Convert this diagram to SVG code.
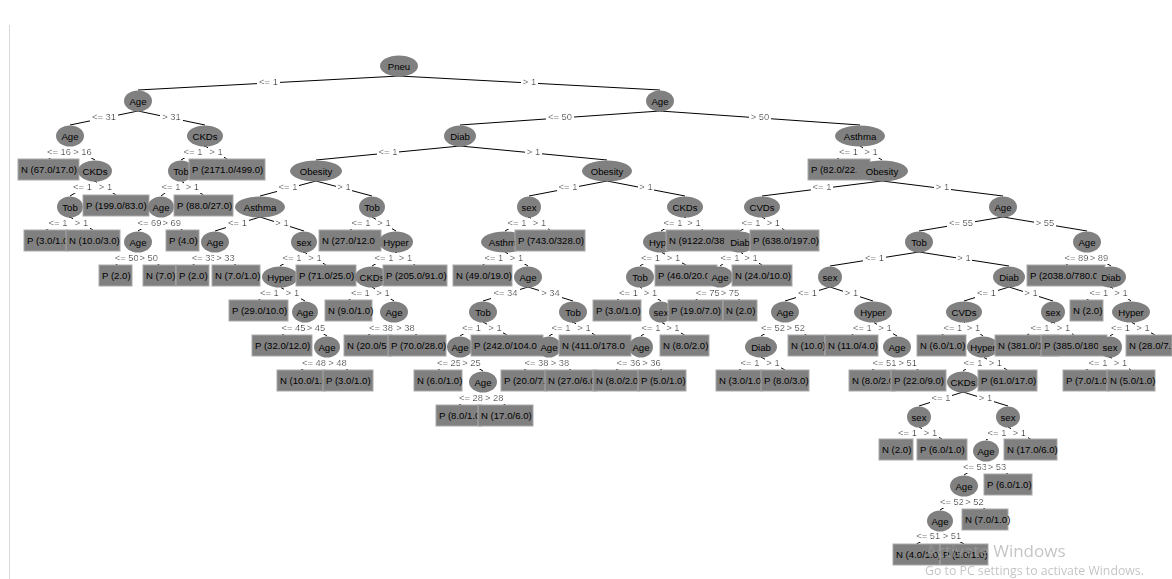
<svg xmlns="http://www.w3.org/2000/svg" width="1172" height="579" viewBox="0 0 1172 579">
<style>
.nd ellipse{fill:#808080}
.nd rect{fill:#808080;stroke:#a9a9a9;stroke-width:1}
.nd text{font-family:"Liberation Sans",Arial,sans-serif;font-size:9.6px;fill:#000}
.nd text.c{text-anchor:middle}
#connectors line{stroke:#000;stroke-width:1}
#edge-labels text{font-family:"Liberation Sans",Arial,sans-serif;font-size:9.4px;text-anchor:middle;fill:#000;filter:url(#lbg)}
.wm{font-family:"Open Sans","Noto Sans",sans-serif;fill:#9e9e9e;opacity:0.6}
</style>
<defs>
<!-- white backing box behind each branch label, so the line breaks around it -->
<filter id="lbg" x="-0.08" y="-0.05" width="1.16" height="1.1">
<feFlood flood-color="#fff"/>
<feComposite in="SourceGraphic" operator="over"/>
</filter>
</defs>
<rect width="1172" height="579" fill="#fff"/>
<line x1="9.5" y1="25" x2="9.5" y2="579" stroke="#d9d9d9" stroke-width="1"/>

<g id="connectors">
<line x1="399" y1="76" x2="138" y2="90"/>
<line x1="399" y1="76" x2="660" y2="90"/>
<line x1="138" y1="111" x2="70" y2="125"/>
<line x1="138" y1="111" x2="205" y2="125"/>
<line x1="70" y1="146" x2="48.5" y2="159"/>
<line x1="70" y1="146" x2="95" y2="160"/>
<line x1="95" y1="181" x2="70" y2="196"/>
<line x1="95" y1="181" x2="116" y2="195"/>
<line x1="70" y1="217" x2="46" y2="230"/>
<line x1="70" y1="217" x2="93" y2="230"/>
<line x1="205" y1="146" x2="181" y2="160"/>
<line x1="205" y1="146" x2="227" y2="159"/>
<line x1="181" y1="181" x2="161" y2="196"/>
<line x1="181" y1="181" x2="203.5" y2="195"/>
<line x1="161" y1="217" x2="138" y2="231"/>
<line x1="161" y1="217" x2="182.5" y2="230"/>
<line x1="138" y1="252" x2="115.5" y2="265"/>
<line x1="138" y1="252" x2="159.5" y2="265"/>
<line x1="660" y1="111" x2="460" y2="125"/>
<line x1="660" y1="111" x2="860" y2="125"/>
<line x1="460" y1="146" x2="316" y2="160"/>
<line x1="460" y1="146" x2="607" y2="160"/>
<line x1="316" y1="181" x2="260" y2="196"/>
<line x1="316" y1="181" x2="372" y2="196"/>
<line x1="260" y1="217" x2="215" y2="231"/>
<line x1="260" y1="217" x2="304" y2="231"/>
<line x1="215" y1="252" x2="192.5" y2="265"/>
<line x1="215" y1="252" x2="236" y2="265"/>
<line x1="304" y1="252" x2="280" y2="266"/>
<line x1="304" y1="252" x2="326" y2="265"/>
<line x1="280" y1="287" x2="258.5" y2="300"/>
<line x1="280" y1="287" x2="305" y2="301"/>
<line x1="305" y1="322" x2="282" y2="335"/>
<line x1="305" y1="322" x2="327" y2="336"/>
<line x1="327" y1="357" x2="301" y2="370"/>
<line x1="327" y1="357" x2="348" y2="370"/>
<line x1="372" y1="217" x2="350" y2="230"/>
<line x1="372" y1="217" x2="396" y2="231"/>
<line x1="396" y1="252" x2="372" y2="266"/>
<line x1="396" y1="252" x2="415" y2="265"/>
<line x1="372" y1="287" x2="348.5" y2="300"/>
<line x1="372" y1="287" x2="394" y2="301"/>
<line x1="394" y1="322" x2="368" y2="335"/>
<line x1="394" y1="322" x2="417" y2="335"/>
<line x1="607" y1="181" x2="529" y2="196"/>
<line x1="607" y1="181" x2="685" y2="196"/>
<line x1="529" y1="217" x2="505" y2="231"/>
<line x1="529" y1="217" x2="550" y2="230"/>
<line x1="505" y1="252" x2="482.5" y2="265"/>
<line x1="505" y1="252" x2="528" y2="266"/>
<line x1="528" y1="287" x2="483" y2="301"/>
<line x1="528" y1="287" x2="573" y2="301"/>
<line x1="483" y1="322" x2="460" y2="336"/>
<line x1="483" y1="322" x2="507" y2="335"/>
<line x1="460" y1="357" x2="438" y2="370"/>
<line x1="460" y1="357" x2="483" y2="371"/>
<line x1="483" y1="392" x2="459" y2="405"/>
<line x1="483" y1="392" x2="505.5" y2="405"/>
<line x1="573" y1="322" x2="549" y2="336"/>
<line x1="573" y1="322" x2="595" y2="335"/>
<line x1="549" y1="357" x2="524" y2="370"/>
<line x1="549" y1="357" x2="571" y2="370"/>
<line x1="685" y1="217" x2="661" y2="231"/>
<line x1="685" y1="217" x2="703" y2="230"/>
<line x1="661" y1="252" x2="640" y2="266"/>
<line x1="661" y1="252" x2="686" y2="265"/>
<line x1="640" y1="287" x2="617" y2="300"/>
<line x1="640" y1="287" x2="661" y2="301"/>
<line x1="661" y1="322" x2="641" y2="336"/>
<line x1="661" y1="322" x2="684.5" y2="335"/>
<line x1="641" y1="357" x2="616" y2="370"/>
<line x1="641" y1="357" x2="662" y2="370"/>
<line x1="860" y1="146" x2="837" y2="159"/>
<line x1="860" y1="146" x2="882" y2="160"/>
<line x1="882" y1="181" x2="762" y2="196"/>
<line x1="882" y1="181" x2="1003" y2="196"/>
<line x1="762" y1="217" x2="740" y2="231"/>
<line x1="762" y1="217" x2="784.5" y2="230"/>
<line x1="740" y1="252" x2="720" y2="266"/>
<line x1="740" y1="252" x2="762" y2="265"/>
<line x1="720" y1="287" x2="695.5" y2="300"/>
<line x1="720" y1="287" x2="740" y2="300"/>
<line x1="1003" y1="217" x2="919" y2="231"/>
<line x1="1003" y1="217" x2="1087" y2="231"/>
<line x1="919" y1="252" x2="830" y2="266"/>
<line x1="919" y1="252" x2="1009" y2="266"/>
<line x1="830" y1="287" x2="785" y2="301"/>
<line x1="830" y1="287" x2="873" y2="301"/>
<line x1="785" y1="322" x2="761" y2="336"/>
<line x1="785" y1="322" x2="806.5" y2="335"/>
<line x1="761" y1="357" x2="739" y2="370"/>
<line x1="761" y1="357" x2="785" y2="370"/>
<line x1="873" y1="322" x2="851.5" y2="335"/>
<line x1="873" y1="322" x2="897" y2="336"/>
<line x1="897" y1="357" x2="872" y2="370"/>
<line x1="897" y1="357" x2="918.5" y2="370"/>
<line x1="1009" y1="287" x2="964" y2="301"/>
<line x1="1009" y1="287" x2="1053" y2="301"/>
<line x1="964" y1="322" x2="941.5" y2="335"/>
<line x1="964" y1="322" x2="983" y2="336"/>
<line x1="983" y1="357" x2="963" y2="371"/>
<line x1="983" y1="357" x2="1007.5" y2="370"/>
<line x1="963" y1="392" x2="919" y2="406"/>
<line x1="963" y1="392" x2="1008" y2="406"/>
<line x1="919" y1="427" x2="896" y2="439"/>
<line x1="919" y1="427" x2="942" y2="439"/>
<line x1="1008" y1="427" x2="986" y2="440"/>
<line x1="1008" y1="427" x2="1030.5" y2="439"/>
<line x1="986" y1="461" x2="964" y2="475"/>
<line x1="986" y1="461" x2="1008" y2="474"/>
<line x1="964" y1="496" x2="940" y2="510"/>
<line x1="964" y1="496" x2="985" y2="509"/>
<line x1="940" y1="531" x2="916.5" y2="544"/>
<line x1="940" y1="531" x2="964" y2="544"/>
<line x1="1053" y1="322" x2="1027" y2="335"/>
<line x1="1053" y1="322" x2="1074" y2="335"/>
<line x1="1087" y1="252" x2="1066" y2="265"/>
<line x1="1087" y1="252" x2="1111" y2="266"/>
<line x1="1111" y1="287" x2="1086.5" y2="300"/>
<line x1="1111" y1="287" x2="1131" y2="301"/>
<line x1="1131" y1="322" x2="1110" y2="336"/>
<line x1="1131" y1="322" x2="1155" y2="335"/>
<line x1="1110" y1="357" x2="1086" y2="370"/>
<line x1="1110" y1="357" x2="1131" y2="370"/>
</g>

<g id="edge-labels">
<text x="268.5" y="85">&lt;= 1</text><text x="529.5" y="85">&gt; 1</text>
<text x="104" y="120">&lt;= 31</text><text x="171.5" y="120">&gt; 31</text>
<text x="59" y="155">&lt;= 16</text><text x="82.5" y="155">&gt; 16</text>
<text x="82.5" y="190">&lt;= 1</text><text x="105.5" y="190">&gt; 1</text>
<text x="58" y="226">&lt;= 1</text><text x="81.5" y="226">&gt; 1</text>
<text x="193" y="155">&lt;= 1</text><text x="216" y="155">&gt; 1</text>
<text x="171" y="190">&lt;= 1</text><text x="192.3" y="190">&gt; 1</text>
<text x="149.5" y="226">&lt;= 69</text><text x="171.8" y="226">&gt; 69</text>
<text x="126.8" y="261">&lt;= 50</text><text x="148.8" y="261">&gt; 50</text>
<text x="560" y="120">&lt;= 50</text><text x="760" y="120">&gt; 50</text>
<text x="388" y="155">&lt;= 1</text><text x="533.5" y="155">&gt; 1</text>
<text x="288" y="190">&lt;= 1</text><text x="344" y="190">&gt; 1</text>
<text x="237.5" y="226">&lt;= 1</text><text x="282" y="226">&gt; 1</text>
<text x="203.8" y="261">&lt;= 33</text><text x="225.5" y="261">&gt; 33</text>
<text x="292" y="261">&lt;= 1</text><text x="315" y="261">&gt; 1</text>
<text x="269.3" y="296">&lt;= 1</text><text x="292.5" y="296">&gt; 1</text>
<text x="293.5" y="331">&lt;= 45</text><text x="316" y="331">&gt; 45</text>
<text x="314" y="366">&lt;= 48</text><text x="337.5" y="366">&gt; 48</text>
<text x="361" y="226">&lt;= 1</text><text x="384" y="226">&gt; 1</text>
<text x="384" y="261">&lt;= 1</text><text x="405.5" y="261">&gt; 1</text>
<text x="360.3" y="296">&lt;= 1</text><text x="383" y="296">&gt; 1</text>
<text x="381" y="331">&lt;= 38</text><text x="405.5" y="331">&gt; 38</text>
<text x="568" y="190">&lt;= 1</text><text x="646" y="190">&gt; 1</text>
<text x="517" y="226">&lt;= 1</text><text x="539.5" y="226">&gt; 1</text>
<text x="493.8" y="261">&lt;= 1</text><text x="516.5" y="261">&gt; 1</text>
<text x="505.5" y="296">&lt;= 34</text><text x="550.5" y="296">&gt; 34</text>
<text x="471.5" y="331">&lt;= 1</text><text x="495" y="331">&gt; 1</text>
<text x="449" y="366">&lt;= 25</text><text x="471.5" y="366">&gt; 25</text>
<text x="471" y="401">&lt;= 28</text><text x="494.3" y="401">&gt; 28</text>
<text x="561" y="331">&lt;= 1</text><text x="584" y="331">&gt; 1</text>
<text x="536.5" y="366">&lt;= 38</text><text x="560" y="366">&gt; 38</text>
<text x="673" y="226">&lt;= 1</text><text x="694" y="226">&gt; 1</text>
<text x="650.5" y="261">&lt;= 1</text><text x="673.5" y="261">&gt; 1</text>
<text x="628.5" y="296">&lt;= 1</text><text x="650.5" y="296">&gt; 1</text>
<text x="651" y="331">&lt;= 1</text><text x="672.8" y="331">&gt; 1</text>
<text x="628.5" y="366">&lt;= 36</text><text x="651.5" y="366">&gt; 36</text>
<text x="848.5" y="155">&lt;= 1</text><text x="871" y="155">&gt; 1</text>
<text x="822" y="190">&lt;= 1</text><text x="942.5" y="190">&gt; 1</text>
<text x="751" y="226">&lt;= 1</text><text x="773.3" y="226">&gt; 1</text>
<text x="730" y="261">&lt;= 1</text><text x="751" y="261">&gt; 1</text>
<text x="707.8" y="296">&lt;= 75</text><text x="730" y="296">&gt; 75</text>
<text x="961" y="226">&lt;= 55</text><text x="1045" y="226">&gt; 55</text>
<text x="874.5" y="261">&lt;= 1</text><text x="964" y="261">&gt; 1</text>
<text x="807.5" y="296">&lt;= 1</text><text x="851.5" y="296">&gt; 1</text>
<text x="773" y="331">&lt;= 52</text><text x="795.8" y="331">&gt; 52</text>
<text x="750" y="366">&lt;= 1</text><text x="773" y="366">&gt; 1</text>
<text x="862.3" y="331">&lt;= 1</text><text x="885" y="331">&gt; 1</text>
<text x="884.5" y="366">&lt;= 51</text><text x="907.8" y="366">&gt; 51</text>
<text x="986.5" y="296">&lt;= 1</text><text x="1031" y="296">&gt; 1</text>
<text x="952.8" y="331">&lt;= 1</text><text x="973.5" y="331">&gt; 1</text>
<text x="973" y="366">&lt;= 1</text><text x="995.3" y="366">&gt; 1</text>
<text x="941" y="401">&lt;= 1</text><text x="985.5" y="401">&gt; 1</text>
<text x="907.5" y="436">&lt;= 1</text><text x="930.5" y="436">&gt; 1</text>
<text x="997" y="436">&lt;= 1</text><text x="1019.3" y="436">&gt; 1</text>
<text x="975" y="470">&lt;= 53</text><text x="997" y="470">&gt; 53</text>
<text x="952" y="505">&lt;= 52</text><text x="974.5" y="505">&gt; 52</text>
<text x="928.3" y="539">&lt;= 51</text><text x="952" y="539">&gt; 51</text>
<text x="1040" y="331">&lt;= 1</text><text x="1063.5" y="331">&gt; 1</text>
<text x="1076.5" y="261">&lt;= 89</text><text x="1099" y="261">&gt; 89</text>
<text x="1098.8" y="296">&lt;= 1</text><text x="1121" y="296">&gt; 1</text>
<text x="1120.5" y="331">&lt;= 1</text><text x="1143" y="331">&gt; 1</text>
<text x="1098" y="366">&lt;= 1</text><text x="1120.5" y="366">&gt; 1</text>
</g>

<!-- nodes, drawn in depth-first order so right-hand siblings overlap left ones -->
<g id="node-0" class="nd"><ellipse cx="399" cy="66" rx="19" ry="10.5"/><text class="c" x="399" y="69.5">Pneu</text></g>
<g id="node-1" class="nd"><ellipse cx="138" cy="101" rx="14" ry="10.5"/><text class="c" x="138" y="104.5">Age</text></g>
<g id="node-2" class="nd"><ellipse cx="70" cy="136" rx="14" ry="10.5"/><text class="c" x="70" y="139.5">Age</text></g>
<g id="node-3" class="nd"><rect x="18" y="159" width="61" height="21"/><text x="21" y="173">N (67.0/17.0)</text></g>
<g id="node-4" class="nd"><ellipse cx="95" cy="171" rx="17" ry="10.5"/><text class="c" x="95" y="174.5">CKDs</text></g>
<g id="node-5" class="nd"><ellipse cx="70" cy="207" rx="13" ry="10.5"/><text class="c" x="70" y="210.5">Tob</text></g>
<g id="node-6" class="nd"><rect x="24" y="230" width="44" height="21"/><text x="27" y="244">P (3.0/1.0</text></g>
<g id="node-7" class="nd"><rect x="66" y="230" width="54" height="21"/><text x="69" y="244">N (10.0/3.0)</text></g>
<g id="node-8" class="nd"><rect x="83" y="195" width="66" height="21"/><text x="86" y="209">P (199.0/83.0)</text></g>
<g id="node-9" class="nd"><ellipse cx="205" cy="136" rx="18" ry="10.5"/><text class="c" x="205" y="139.5">CKDs</text></g>
<g id="node-10" class="nd"><ellipse cx="181" cy="171" rx="13" ry="10.5"/><text class="c" x="181" y="174.5">Tob</text></g>
<g id="node-11" class="nd"><ellipse cx="161" cy="207" rx="13" ry="10.5"/><text class="c" x="161" y="210.5">Age</text></g>
<g id="node-12" class="nd"><ellipse cx="138" cy="242" rx="14" ry="10.5"/><text class="c" x="138" y="245.5">Age</text></g>
<g id="node-13" class="nd"><rect x="99" y="265" width="33" height="21"/><text x="102" y="279">P (2.0)</text></g>
<g id="node-14" class="nd"><rect x="143" y="265" width="33" height="21"/><text x="146" y="279">N (7.0)</text></g>
<g id="node-15" class="nd"><rect x="166" y="230" width="33" height="21"/><text x="169" y="244">P (4.0)</text></g>
<g id="node-16" class="nd"><rect x="174" y="195" width="59" height="21"/><text x="177" y="209">P (88.0/27.0)</text></g>
<g id="node-17" class="nd"><rect x="189" y="159" width="76" height="21"/><text x="192" y="173">P (2171.0/499.0)</text></g>
<g id="node-18" class="nd"><ellipse cx="660" cy="101" rx="14" ry="10.5"/><text class="c" x="660" y="104.5">Age</text></g>
<g id="node-19" class="nd"><ellipse cx="460" cy="136" rx="16" ry="10.5"/><text class="c" x="460" y="139.5">Diab</text></g>
<g id="node-20" class="nd"><ellipse cx="316" cy="171" rx="26" ry="10.5"/><text class="c" x="316" y="174.5">Obesity</text></g>
<g id="node-21" class="nd"><ellipse cx="260" cy="207" rx="25" ry="10.5"/><text class="c" x="260" y="210.5">Asthma</text></g>
<g id="node-22" class="nd"><ellipse cx="215" cy="242" rx="14" ry="10.5"/><text class="c" x="215" y="245.5">Age</text></g>
<g id="node-23" class="nd"><rect x="176" y="265" width="33" height="21"/><text x="179" y="279">P (2.0)</text></g>
<g id="node-24" class="nd"><rect x="212" y="265" width="48" height="21"/><text x="215" y="279">N (7.0/1.0)</text></g>
<g id="node-25" class="nd"><ellipse cx="304" cy="242" rx="13" ry="10.5"/><text class="c" x="304" y="245.5">sex</text></g>
<g id="node-26" class="nd"><ellipse cx="280" cy="277" rx="18" ry="10.5"/><text class="c" x="280" y="280.5">Hyper</text></g>
<g id="node-27" class="nd"><rect x="229" y="300" width="59" height="21"/><text x="232" y="314">P (29.0/10.0)</text></g>
<g id="node-28" class="nd"><ellipse cx="305" cy="312" rx="13" ry="10.5"/><text class="c" x="305" y="315.5">Age</text></g>
<g id="node-29" class="nd"><rect x="252" y="335" width="60" height="21"/><text x="255" y="349">P (32.0/12.0)</text></g>
<g id="node-30" class="nd"><ellipse cx="327" cy="347" rx="13" ry="10.5"/><text class="c" x="327" y="350.5">Age</text></g>
<g id="node-31" class="nd"><rect x="277" y="370" width="48" height="21"/><text x="280" y="384">N (10.0/1.0</text></g>
<g id="node-32" class="nd"><rect x="323" y="370" width="50" height="21"/><text x="326" y="384">P (3.0/1.0)</text></g>
<g id="node-33" class="nd"><rect x="296" y="265" width="60" height="21"/><text x="299" y="279">P (71.0/25.0)</text></g>
<g id="node-34" class="nd"><ellipse cx="372" cy="207" rx="13" ry="10.5"/><text class="c" x="372" y="210.5">Tob</text></g>
<g id="node-35" class="nd"><rect x="319" y="230" width="62" height="21"/><text x="322" y="244">N (27.0/12.0</text></g>
<g id="node-36" class="nd"><ellipse cx="396" cy="242" rx="17" ry="10.5"/><text class="c" x="396" y="245.5">Hyper</text></g>
<g id="node-37" class="nd"><ellipse cx="372" cy="277" rx="17" ry="10.5"/><text class="c" x="372" y="280.5">CKDs</text></g>
<g id="node-38" class="nd"><rect x="325" y="300" width="47" height="21"/><text x="328" y="314">N (9.0/1.0)</text></g>
<g id="node-39" class="nd"><ellipse cx="394" cy="312" rx="14" ry="10.5"/><text class="c" x="394" y="315.5">Age</text></g>
<g id="node-40" class="nd"><rect x="344" y="335" width="48" height="21"/><text x="347" y="349">N (20.0/5</text></g>
<g id="node-41" class="nd"><rect x="388" y="335" width="58" height="21"/><text x="391" y="349">P (70.0/28.0)</text></g>
<g id="node-42" class="nd"><rect x="383" y="265" width="64" height="21"/><text x="386" y="279">P (205.0/91.0)</text></g>
<g id="node-43" class="nd"><ellipse cx="607" cy="171" rx="25" ry="10.5"/><text class="c" x="607" y="174.5">Obesity</text></g>
<g id="node-44" class="nd"><ellipse cx="529" cy="207" rx="12" ry="10.5"/><text class="c" x="529" y="210.5">sex</text></g>
<g id="node-45" class="nd"><ellipse cx="505" cy="242" rx="24" ry="10.5"/><text class="c" x="505" y="245.5">Asthma</text></g>
<g id="node-46" class="nd"><rect x="453" y="265" width="59" height="21"/><text x="456" y="279">N (49.0/19.0)</text></g>
<g id="node-47" class="nd"><ellipse cx="528" cy="277" rx="14" ry="10.5"/><text class="c" x="528" y="280.5">Age</text></g>
<g id="node-48" class="nd"><ellipse cx="483" cy="312" rx="14" ry="10.5"/><text class="c" x="483" y="315.5">Tob</text></g>
<g id="node-49" class="nd"><ellipse cx="460" cy="347" rx="13" ry="10.5"/><text class="c" x="460" y="350.5">Age</text></g>
<g id="node-50" class="nd"><rect x="414" y="370" width="48" height="21"/><text x="417" y="384">N (6.0/1.0)</text></g>
<g id="node-51" class="nd"><ellipse cx="483" cy="382" rx="14" ry="10.5"/><text class="c" x="483" y="385.5">Age</text></g>
<g id="node-52" class="nd"><rect x="436" y="405" width="46" height="21"/><text x="439" y="419">P (8.0/1.0</text></g>
<g id="node-53" class="nd"><rect x="478" y="405" width="55" height="21"/><text x="481" y="419">N (17.0/6.0)</text></g>
<g id="node-54" class="nd"><rect x="471" y="335" width="72" height="21"/><text x="474" y="349">P (242.0/104.0</text></g>
<g id="node-55" class="nd"><ellipse cx="573" cy="312" rx="14" ry="10.5"/><text class="c" x="573" y="315.5">Tob</text></g>
<g id="node-56" class="nd"><ellipse cx="549" cy="347" rx="12" ry="10.5"/><text class="c" x="549" y="350.5">Age</text></g>
<g id="node-57" class="nd"><rect x="501" y="370" width="46" height="21"/><text x="504" y="384">P (20.0/7.</text></g>
<g id="node-58" class="nd"><rect x="545" y="370" width="52" height="21"/><text x="548" y="384">N (27.0/6.0</text></g>
<g id="node-59" class="nd"><rect x="559" y="335" width="72" height="21"/><text x="562" y="349">N (411.0/178.0</text></g>
<g id="node-60" class="nd"><rect x="515" y="230" width="70" height="21"/><text x="518" y="244">P (743.0/328.0)</text></g>
<g id="node-61" class="nd"><ellipse cx="685" cy="207" rx="18" ry="10.5"/><text class="c" x="685" y="210.5">CKDs</text></g>
<g id="node-62" class="nd"><ellipse cx="661" cy="242" rx="18" ry="10.5"/><text x="649" y="245.5">Hyp</text></g>
<g id="node-63" class="nd"><ellipse cx="640" cy="277" rx="14" ry="10.5"/><text class="c" x="640" y="280.5">Tob</text></g>
<g id="node-64" class="nd"><rect x="593" y="300" width="48" height="21"/><text x="596" y="314">P (3.0/1.0)</text></g>
<g id="node-65" class="nd"><ellipse cx="661" cy="312" rx="12" ry="10.5"/><text class="c" x="661" y="315.5">sex</text></g>
<g id="node-66" class="nd"><ellipse cx="641" cy="347" rx="12" ry="10.5"/><text class="c" x="641" y="350.5">Age</text></g>
<g id="node-67" class="nd"><rect x="593" y="370" width="47" height="21"/><text x="596" y="384">N (8.0/2.0)</text></g>
<g id="node-68" class="nd"><rect x="638" y="370" width="48" height="21"/><text x="641" y="384">P (5.0/1.0)</text></g>
<g id="node-69" class="nd"><rect x="660" y="335" width="49" height="21"/><text x="663" y="349">N (8.0/2.0)</text></g>
<g id="node-70" class="nd"><rect x="655" y="265" width="62" height="21"/><text x="658" y="279">P (46.0/20.0</text></g>
<g id="node-71" class="nd"><rect x="666" y="230" width="74" height="21"/><text x="669" y="244">N (9122.0/380</text></g>
<g id="node-72" class="nd"><ellipse cx="860" cy="136" rx="25" ry="10.5"/><text class="c" x="860" y="139.5">Asthma</text></g>
<g id="node-73" class="nd"><rect x="808" y="159" width="62" height="21"/><text x="811" y="173">P (82.0/22.0</text></g>
<g id="node-74" class="nd"><ellipse cx="882" cy="171" rx="26" ry="10.5"/><text class="c" x="882" y="174.5">Obesity</text></g>
<g id="node-75" class="nd"><ellipse cx="762" cy="207" rx="18" ry="10.5"/><text class="c" x="762" y="210.5">CVDs</text></g>
<g id="node-76" class="nd"><ellipse cx="740" cy="242" rx="16" ry="10.5"/><text class="c" x="740" y="245.5">Diab</text></g>
<g id="node-77" class="nd"><ellipse cx="720" cy="277" rx="13" ry="10.5"/><text class="c" x="720" y="280.5">Age</text></g>
<g id="node-78" class="nd"><rect x="668" y="300" width="55" height="21"/><text x="671" y="314">P (19.0/7.0)</text></g>
<g id="node-79" class="nd"><rect x="723" y="300" width="34" height="21"/><text x="726" y="314">N (2.0)</text></g>
<g id="node-80" class="nd"><rect x="732" y="265" width="60" height="21"/><text x="735" y="279">N (24.0/10.0)</text></g>
<g id="node-81" class="nd"><rect x="750" y="230" width="69" height="21"/><text x="753" y="244">P (638.0/197.0)</text></g>
<g id="node-82" class="nd"><ellipse cx="1003" cy="207" rx="14" ry="10.5"/><text class="c" x="1003" y="210.5">Age</text></g>
<g id="node-83" class="nd"><ellipse cx="919" cy="242" rx="14" ry="10.5"/><text class="c" x="919" y="245.5">Tob</text></g>
<g id="node-84" class="nd"><ellipse cx="830" cy="277" rx="12" ry="10.5"/><text class="c" x="830" y="280.5">sex</text></g>
<g id="node-85" class="nd"><ellipse cx="785" cy="312" rx="14" ry="10.5"/><text class="c" x="785" y="315.5">Age</text></g>
<g id="node-86" class="nd"><ellipse cx="761" cy="347" rx="16" ry="10.5"/><text class="c" x="761" y="350.5">Diab</text></g>
<g id="node-87" class="nd"><rect x="716" y="370" width="46" height="21"/><text x="719" y="384">N (3.0/1.0</text></g>
<g id="node-88" class="nd"><rect x="761" y="370" width="48" height="21"/><text x="764" y="384">P (8.0/3.0)</text></g>
<g id="node-89" class="nd"><rect x="788" y="335" width="37" height="21"/><text x="791" y="349">N (10.0)</text></g>
<g id="node-90" class="nd"><ellipse cx="873" cy="312" rx="19" ry="10.5"/><text class="c" x="873" y="315.5">Hyper</text></g>
<g id="node-91" class="nd"><rect x="825" y="335" width="53" height="21"/><text x="828" y="349">N (11.0/4.0)</text></g>
<g id="node-92" class="nd"><ellipse cx="897" cy="347" rx="14" ry="10.5"/><text class="c" x="897" y="350.5">Age</text></g>
<g id="node-93" class="nd"><rect x="849" y="370" width="46" height="21"/><text x="852" y="384">N (8.0/2.0</text></g>
<g id="node-94" class="nd"><rect x="891" y="370" width="55" height="21"/><text x="894" y="384">P (22.0/9.0)</text></g>
<g id="node-95" class="nd"><ellipse cx="1009" cy="277" rx="16" ry="10.5"/><text class="c" x="1009" y="280.5">Diab</text></g>
<g id="node-96" class="nd"><ellipse cx="964" cy="312" rx="18" ry="10.5"/><text class="c" x="964" y="315.5">CVDs</text></g>
<g id="node-97" class="nd"><rect x="917" y="335" width="49" height="21"/><text x="920" y="349">N (6.0/1.0)</text></g>
<g id="node-98" class="nd"><ellipse cx="983" cy="347" rx="16" ry="10.5"/><text class="c" x="983" y="350.5">Hyper</text></g>
<g id="node-99" class="nd"><ellipse cx="963" cy="382" rx="16" ry="10.5"/><text class="c" x="963" y="385.5">CKDs</text></g>
<g id="node-100" class="nd"><ellipse cx="919" cy="417" rx="12" ry="10.5"/><text class="c" x="919" y="420.5">sex</text></g>
<g id="node-101" class="nd"><rect x="879" y="439" width="34" height="21"/><text x="882" y="453">N (2.0)</text></g>
<g id="node-102" class="nd"><rect x="917" y="439" width="50" height="21"/><text x="920" y="453">P (6.0/1.0)</text></g>
<g id="node-103" class="nd"><ellipse cx="1008" cy="417" rx="12" ry="10.5"/><text class="c" x="1008" y="420.5">sex</text></g>
<g id="node-104" class="nd"><ellipse cx="986" cy="451" rx="13" ry="10.5"/><text class="c" x="986" y="454.5">Age</text></g>
<g id="node-105" class="nd"><ellipse cx="964" cy="486" rx="14" ry="10.5"/><text class="c" x="964" y="489.5">Age</text></g>
<g id="node-106" class="nd"><ellipse cx="940" cy="521" rx="13" ry="10.5"/><text class="c" x="940" y="524.5">Age</text></g>
<g id="node-107" class="nd"><rect x="893" y="544" width="47" height="21"/><text x="896" y="558">N (4.0/1.0)</text></g>
<g id="node-108" class="nd"><rect x="940" y="544" width="48" height="21"/><text x="943" y="558">P (5.0/1.0)</text></g>
<g id="node-109" class="nd"><rect x="962" y="509" width="46" height="21"/><text x="965" y="523">N (7.0/1.0)</text></g>
<g id="node-110" class="nd"><rect x="984" y="474" width="48" height="21"/><text x="987" y="488">P (6.0/1.0)</text></g>
<g id="node-111" class="nd"><rect x="1004" y="439" width="53" height="21"/><text x="1007" y="453">N (17.0/6.0)</text></g>
<g id="node-112" class="nd"><rect x="978" y="370" width="59" height="21"/><text x="981" y="384">P (61.0/17.0)</text></g>
<g id="node-113" class="nd"><ellipse cx="1053" cy="312" rx="12" ry="10.5"/><text class="c" x="1053" y="315.5">sex</text></g>
<g id="node-114" class="nd"><rect x="995" y="335" width="64" height="21"/><text x="998" y="349">N (381.0/1</text></g>
<g id="node-115" class="nd"><rect x="1041" y="335" width="66" height="21"/><text x="1044" y="349">P (385.0/180.</text></g>
<g id="node-116" class="nd"><ellipse cx="1087" cy="242" rx="14" ry="10.5"/><text class="c" x="1087" y="245.5">Age</text></g>
<g id="node-117" class="nd"><rect x="1027" y="265" width="78" height="21"/><text x="1030" y="279">P (2038.0/780.0</text></g>
<g id="node-118" class="nd"><ellipse cx="1111" cy="277" rx="15" ry="10.5"/><text class="c" x="1111" y="280.5">Diab</text></g>
<g id="node-119" class="nd"><rect x="1070" y="300" width="33" height="21"/><text x="1073" y="314">N (2.0)</text></g>
<g id="node-120" class="nd"><ellipse cx="1131" cy="312" rx="19" ry="10.5"/><text class="c" x="1131" y="315.5">Hyper</text></g>
<g id="node-121" class="nd"><ellipse cx="1110" cy="347" rx="12" ry="10.5"/><text class="c" x="1110" y="350.5">sex</text></g>
<g id="node-122" class="nd"><rect x="1063" y="370" width="46" height="21"/><text x="1066" y="384">P (7.0/1.0</text></g>
<g id="node-123" class="nd"><rect x="1107" y="370" width="48" height="21"/><text x="1110" y="384">N (5.0/1.0)</text></g>
<g id="node-124" class="nd"><rect x="1126" y="335" width="46" height="21"/><text x="1129" y="349">N (28.0/7.</text></g>

<g id="os-notice">
<text class="wm" x="926" y="557" font-size="17">Activate Windows</text>
<text class="wm" x="925" y="575" font-size="12.3">Go to PC settings to activate Windows.</text>
</g>
</svg>
